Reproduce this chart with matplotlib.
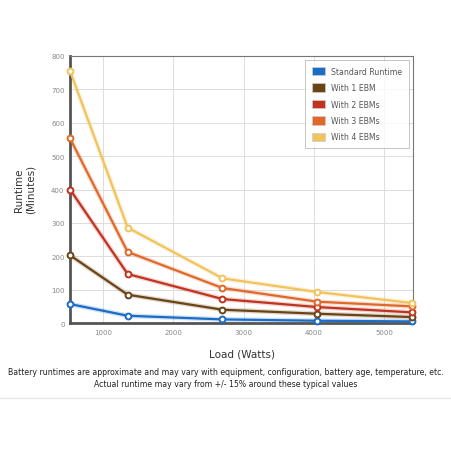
import matplotlib.pyplot as plt
from matplotlib.patches import Patch

load = [530, 1350, 2700, 4050, 5400]
standard = [57, 22, 11, 7, 5]
ebm1 = [203, 85, 40, 28, 18]
ebm2 = [400, 147, 72, 48, 32]
ebm3 = [553, 213, 105, 64, 50]
ebm4 = [755, 286, 134, 93, 60]

names = ['Standard Runtime', 'With 1 EBM', 'With 2 EBMs', 'With 3 EBMs', 'With 4 EBMs']
colors = ['#1a6cc8', '#6b4416', '#c2331f', '#e0692a', '#f2c35c']
series = [standard, ebm1, ebm2, ebm3, ebm4]

fig = plt.figure(figsize=(4.52, 4.52), dpi=100)
ax = fig.add_axes([0.155, 0.283, 0.759, 0.591])

for vals, c in zip(series, colors):
    ax.plot(load, vals, color=c, lw=3.5, alpha=0.2, solid_capstyle='round', zorder=2)
    ax.plot(load, vals, color=c, lw=1.6, marker='o', ms=4.2, mfc='white',
            mec=c, mew=1.4, zorder=3, clip_on=False)

ax.set_xlim(530, 5414)
ax.set_ylim(0, 800)
ax.set_xticks([1000, 2000, 3000, 4000, 5000])
ax.set_yticks(range(0, 801, 100))
ax.tick_params(labelsize=5, colors='#888888', length=0, pad=4)
ax.grid(True, color='#dddddd', lw=0.7)
ax.set_axisbelow(True)
for s in ['top', 'right']:
    ax.spines[s].set_color('#777777')
    ax.spines[s].set_linewidth(0.8)
for s in ['left', 'bottom']:
    ax.spines[s].set_color('#555555')
    ax.spines[s].set_linewidth(2)

ax.set_xlabel('Load (Watts)', fontsize=7.5, color='#333333', labelpad=10)
fig.text(0.055, 0.58, 'Runtime\n(Minutes)', rotation=90, ha='center', va='center',
         fontsize=7.5, color='#333333')

handles = [Patch(facecolor=c, edgecolor='#cccccc', lw=0.5) for c in colors]
leg = ax.legend(handles, names, loc='upper right', fontsize=5.6, frameon=True,
                fancybox=False, edgecolor='#aaaaaa', handlelength=1.6, handleheight=1.3,
                labelspacing=0.95, borderpad=0.9, handletextpad=0.8, labelcolor='#555555',
                bbox_to_anchor=(1.0, 1.0))
leg.get_frame().set_linewidth(0.6)

fig.text(0.5, 0.162, 'Battery runtimes are approximate and may vary with equipment, configuration, battery age, temperature, etc.\nActual runtime may vary from +/- 15% around these typical values',
         ha='center', va='center', fontsize=5.6, color='#222222', linespacing=1.45)
fig.add_artist(plt.Line2D([0, 1], [0.117, 0.117], color='#e5e5e5', lw=0.8))

fig.savefig('out.png', dpi=100)
